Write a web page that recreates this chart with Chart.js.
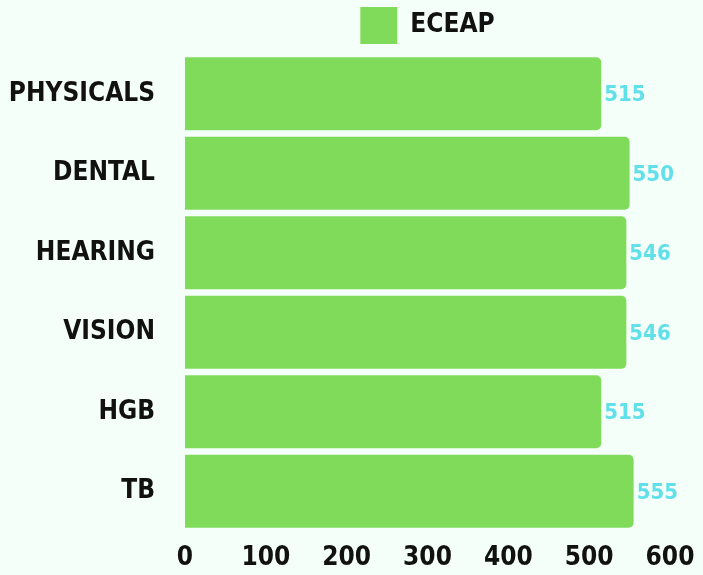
<!DOCTYPE html>
<html>
<head>
<meta charset="utf-8">
<script src="https://cdn.jsdelivr.net/npm/chart.js@4"></script>
<style>
  html, body { margin: 0; padding: 0; background: #f5fff9; }
  #wrap { width: 703px; height: 575px; }
</style>
</head>
<body>
<div id="wrap"><canvas id="barChart" width="703" height="575"></canvas></div>
<script>

// data
const categories = ["PHYSICALS", "DENTAL", "HEARING", "VISION", "HGB", "TB"];
const eceapValues = [515, 550, 546, 546, 515, 555];
const xTicks = [0, 100, 200, 300, 400, 500, 600];

const FONT = "'DejaVu Sans Condensed', 'DejaVu Sans', sans-serif";

// value labels at bar ends
const valueLabels = {
  id: "valueLabels",
  afterDatasetsDraw(chart) {
    const c = chart.ctx;
    const meta = chart.getDatasetMeta(0);
    c.save();
    c.font = "bold 22px " + FONT;
    c.fillStyle = "#62e0ea";
    c.textAlign = "left";
    c.textBaseline = "middle";
    meta.data.forEach((bar, i) => {
      c.fillText(String(eceapValues[i]), bar.x + 3, bar.y + 2);
    });
    c.restore();
  }
};

const ctx = document.getElementById("barChart").getContext("2d");

const chart = new Chart(ctx, {
  type: "bar",
  data: {
    labels: categories,
    datasets: [{
      label: "ECEAP",
      data: eceapValues,
      backgroundColor: "#80db5b",
      borderWidth: 0,
      borderRadius: 5,
      borderSkipped: "start",
      barPercentage: 1,
      categoryPercentage: 0.92
    }]
  },
  options: {
    indexAxis: "y",
    responsive: false,
    animation: false,
    layout: { padding: { top: 0, right: 33, left: 0, bottom: 0 } },
    plugins: {
      tooltip: { enabled: false },
      legend: {
        fullSize: false,
        labels: {
          boxWidth: 37,
          boxHeight: 37,
          padding: 7,
          color: "#111111",
          font: { family: FONT, size: 26, weight: "bold" }
        }
      }
    },
    scales: {
      x: {
        min: 0,
        max: 600,
        afterBuildTicks: axis => { axis.ticks = xTicks.map(v => ({ value: v })); },
        grid: { display: false },
        border: { display: false },
        ticks: {
          color: "#111111",
          padding: 4,
          maxRotation: 0,
          font: { family: FONT, size: 26, weight: "bold" }
        },
        afterFit: axis => { axis.height = 44; }
      },
      y: {
        grid: { display: false },
        border: { display: false },
        ticks: {
          color: "#111111",
          padding: 22,
          font: { family: FONT, size: 26, weight: "bold" }
        },
        afterFit: axis => { axis.width = 185; }
      }
    }
  },
  plugins: [valueLabels]
});

</script>
</body>
</html>
